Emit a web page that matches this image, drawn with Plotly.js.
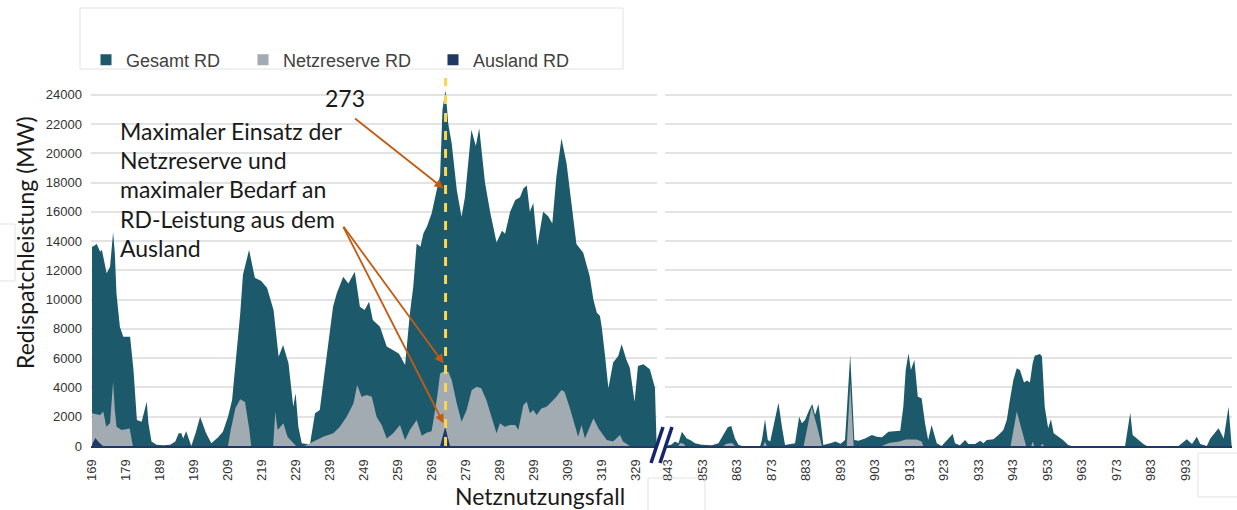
<!DOCTYPE html>
<html>
<head>
<meta charset="utf-8">
<script src="https://cdn.plot.ly/plotly-3.0.1.min.js"></script>
<style>html,body{margin:0;padding:0;background:#fff;}#chart{width:1237px;height:510px;}</style>
</head>
<body>
<div id="chart"></div>
<script>
// ---------- DATA (Netznutzungsfall, MW) ----------
const seriesNames = ["Gesamt RD", "Netzreserve RD", "Ausland RD"];
const leftTicks = [169,179,189,199,209,219,229,239,249,259,269,279,289,299,309,319,329];
const rightTicks = [843,853,863,873,883,893,903,913,923,933,943,953,963,973,983,993];
const yTicks = [0,2000,4000,6000,8000,10000,12000,14000,16000,18000,20000,22000,24000];
const markedCase = 273;

const gesamtLeft = [[169,13600],[170.4,13800],[171.4,13270],[171.9,13400],[173.3,11800],[174.3,12250],[175.2,14600],[175.7,13200],[176.2,10400],[177.2,8150],[178.2,7470],[180.2,7470],[181.2,5200],[182.2,1780],[183.6,1660],[185.1,3030],[185.6,1550],[186.5,300],[188,80],[190,50],[192,80],[193.5,300],[194.5,870],[195.3,870],[195.8,520],[196.7,1000],[198.2,0],[199.5,900],[200.8,2000],[202.5,900],[204.1,180],[206.1,600],[207.5,980],[209,2000],[210.2,3140],[211.2,5420],[212.6,9060],[213.4,11700],[215.2,13400],[216.9,11500],[218.8,11270],[220.5,10800],[222.4,9290],[223.9,6100],[225.2,6900],[226.8,5650],[228.2,2690],[228.9,3600],[229.7,1320],[230.7,180],[233.1,100],[234.6,2230],[236,2460],[237.5,5200],[239.9,9520],[241,10430],[242.9,11570],[244.4,11110],[246.3,11900],[247.8,9520],[249.2,9290],[250.5,9860],[251.6,8600],[253.7,8150],[255.7,6790],[257.5,6560],[259.3,6300],[261.1,5530],[262.5,9060],[263.5,10880],[264.5,13840],[265.6,13620],[266.5,14530],[267.5,14980],[268.9,15890],[270.4,17490],[271.4,18500],[272.1,23000],[273,24300],[273.8,22000],[274.8,20680],[276.3,17490],[277.7,15660],[278.7,17000],[280.6,21600],[281.9,20500],[282.9,21700],[284.6,18000],[286.1,16000],[288,13900],[289.6,14700],[290.5,14500],[292,16000],[293.5,16800],[294.9,17000],[295.9,17600],[296.9,17800],[297.8,16000],[298.8,16600],[300,13700],[301.7,16000],[303.2,15700],[304.4,15200],[305.6,18400],[307.1,21000],[308.6,19300],[310.1,16300],[311.5,13800],[313.5,13200],[315.4,11600],[316.5,10000],[317.5,9100],[318.4,8900],[318.9,8200],[319.9,6200],[320.9,3940],[322.3,5700],[323.8,6150],[324.8,6950],[326.2,5900],[327.2,5350],[328.6,3030],[329.6,5460],[331.2,5580],[333.1,5240],[334.6,3980],[335.1,0]];

const netzLeft = [[169,2230],[171.4,2120],[172.3,2350],[173.2,1320],[174.3,1550],[174.8,3000],[175.2,4400],[175.7,2500],[176.2,1320],[177.7,1090],[180.1,1200],[181,0],[209,0],[209.8,1100],[211.2,2600],[212.6,3200],[214,3000],[215.3,1100],[215.8,0],[222.3,0],[222.9,2350],[223.6,1090],[224.5,1300],[225.3,1550],[226.5,640],[228.2,150],[229,0],[231.5,0],[234.1,300],[237,640],[240,870],[241.9,1320],[243.9,2000],[245.9,2900],[247,4170],[248.3,3370],[249.8,3480],[251.3,3370],[252.7,2000],[254.2,1430],[255.7,520],[257.6,870],[259.6,1430],[261.1,410],[262.5,1090],[264.5,1780],[266,700],[267.4,900],[268.9,1000],[270.4,3140],[271.4,4960],[272.3,5080],[273.8,5080],[274.8,4510],[276.3,2900],[277.7,1660],[279.2,2460],[280.7,3830],[282.2,4050],[283.5,3940],[285,3140],[286.6,2000],[288,870],[289,1550],[290.4,1320],[292,1430],[293.5,1430],[294.4,1090],[295.9,2800],[296.9,3030],[297.8,2230],[298.8,2460],[299.8,2120],[301.2,2570],[302.7,2690],[304.2,3030],[305.6,3370],[307.1,3830],[308,3710],[309.6,2570],[311.1,1320],[312,640],[313,1430],[314,520],[316.5,1890],[318,1200],[320.4,410],[322.3,300],[324.3,750],[325.2,300],[327.2,0],[335.1,0]];

const auslandLeft = [[169,100],[170,550],[171,250],[172.2,0],[271.4,0],[272.9,1320],[274.3,0],[335.1,0]];

const gesamtRight = [[842.2,0],[844,100],[845,300],[846,180],[847,980],[848.4,520],[849.4,410],[850.8,180],[852.8,90],[855.7,50],[857.6,180],[859,750],[860.3,1280],[861.3,1370],[862.4,520],[863.4,90],[864.4,0],[869.7,0],[870.2,410],[871.1,1820],[871.9,410],[872.6,300],[874,1780],[875,2960],[876,1320],[876.9,70],[879.8,180],[881,2000],[881.8,1550],[882.7,1780],[883.9,2460],[884.8,2870],[885.6,2120],[886.6,2870],[887.3,1550],[888,70],[890,180],[891.5,300],[893,150],[894.3,410],[895.3,4290],[895.8,6220],[896.3,3830],[897,410],[898.2,360],[900.1,520],[902.1,750],[903.5,640],[905,590],[906.9,980],[910.3,1050],[911.2,2690],[911.9,5200],[912.7,6340],[913.4,5200],[914.4,5880],[915.4,3370],[916.5,3260],[917.5,1550],[918.4,410],[919.4,1440],[920.9,180],[922.3,0],[923.8,410],[925.5,820],[926.2,180],[927.6,50],[929.1,410],[930.1,140],[932,140],[933.5,360],[934.4,180],[935.4,410],[937.3,460],[938.8,750],[940.2,1090],[941.2,1780],[942.1,3150],[943.1,4510],[944.1,5310],[945,5200],[946.2,4330],[947.1,4470],[947.9,4330],[948.7,5650],[949.3,6160],[950.8,6290],[951.4,6110],[952.2,2690],[953.2,1210],[954,1820],[954.8,870],[956.1,640],[957.5,410],[959,70],[960,0],[975.5,0],[976.2,1090],[977,2280],[977.7,750],[979.4,410],[980.8,140],[981.8,0],[991,0],[993.4,460],[994.9,140],[996.3,640],[997.3,140],[999.2,0],[1000.2,520],[1002.6,1210],[1004.1,520],[1005.5,2690],[1006.4,0]];

const netzRight = [[842.2,0],[846,0],[846.5,200],[847.5,150],[848,0],[859,0],[860,150],[861.5,200],[862.4,0],[870.6,0],[871.1,300],[871.6,0],[882.3,0],[884.6,2690],[886,1500],[887.6,0],[894.8,0],[895.8,4290],[896.8,0],[905,0],[907,200],[910,300],[912,450],[915,450],[916.5,300],[917,0],[942.3,0],[944.1,2350],[946.8,0],[948.3,0],[948.7,300],[949.2,0],[951,0],[951.5,150],[952,0],[1006.4,0]];

const auslandRight = [[842.2,0],[1006.4,0]];

const noteLines = ["Maximaler Einsatz der", "Netzreserve und", "maximaler Bedarf an", "RD-Leistung aus dem", "Ausland"];
const yTitle = "Redispatchleistung (MW)";
const xTitle = "Netznutzungsfall";

// ---------- STYLE ----------
const colors = ["#1c5a6b", "#a2abb2", "#1f3864"];
const W = 1237, H = 510;
const M = {l: 91, r: 5, t: 78, b: 64};
const plotW = W - M.l - M.r, plotH = H - M.t - M.b;
const px = v => (v - M.l) / plotW;      // pixel x -> paper
const py = v => (H - M.b - v) / plotH;  // pixel y -> paper
const noteFont = {family: "Lato, 'Noto Sans', sans-serif", size: 23, color: "#1a1a1a"};
const tickFont = {family: "'Liberation Sans', Arial, sans-serif", size: 13, color: "#333333"};
const legendFont = {family: "'Liberation Sans', Arial, sans-serif", size: 18, color: "#404040"};

function area(pairs, idx, xa) {
  return {
    x: pairs.map(p => p[0]), y: pairs.map(p => p[1]),
    type: "scatter", mode: "lines", fill: "tozeroy",
    line: {width: 0, color: colors[idx], shape: "linear"},
    fillcolor: colors[idx], xaxis: xa, yaxis: "y",
    name: seriesNames[idx], showlegend: false, hoverinfo: "x+y+name"
  };
}
const traces = [
  area(gesamtLeft, 0, "x"), area(netzLeft, 1, "x"), area(auslandLeft, 2, "x"),
  area(gesamtRight, 0, "x2"), area(netzRight, 1, "x2"), area(auslandRight, 2, "x2")
];
const legendIds = ["legend", "legend2", "legend3"];
seriesNames.forEach((n, i) => traces.push({
  x: [null], y: [null], type: "scatter", mode: "markers", name: n,
  marker: {symbol: "square", size: 11, color: colors[i]}, xaxis: "x", yaxis: "y",
  showlegend: true, legend: legendIds[i], hoverinfo: "skip"
}));

const xBase = {
  tickangle: -90, tickfont: tickFont, showgrid: false, zeroline: false,
  showline: true, linecolor: "#1f3864", linewidth: 2, ticks: "",
  tickmode: "array", ticklabelstandoff: 6, fixedrange: true, anchor: "y"
};

const annotations = noteLines.map((t, i) => ({
  text: t, xref: "paper", yref: "paper", x: px(118), y: py(131 + i * 29.2),
  xanchor: "left", yanchor: "middle", showarrow: false, font: noteFont, align: "left"
}));
annotations.push(
  {text: String(markedCase), xref: "paper", yref: "paper", x: px(345), y: py(98), xanchor: "center", yanchor: "middle", showarrow: false, font: noteFont},
  {text: xTitle, xref: "paper", yref: "paper", x: px(540), y: py(496), xanchor: "center", yanchor: "middle", showarrow: false, font: noteFont},
  {text: yTitle, xref: "paper", yref: "paper", x: px(25), y: py(243), xanchor: "center", yanchor: "middle", textangle: -90, showarrow: false, font: noteFont}
);
// arrows (head in data coords, tail as pixel offset)
const arrowStyle = {showarrow: true, arrowhead: 2, arrowsize: 1, arrowwidth: 1.8, arrowcolor: "#c55a11", text: "", xref: "x", yref: "y", axref: "pixel", ayref: "pixel"};
annotations.push(
  Object.assign({}, arrowStyle, {x: 272.4, y: 17600, ax: -90, ay: -71}),
  Object.assign({}, arrowStyle, {x: 272.4, y: 5650, ax: -101, ay: -138}),
  Object.assign({}, arrowStyle, {x: 272.4, y: 1550, ax: -101, ay: -198})
);

const boxLine = {color: "#e2e2e2", width: 1};
const shapes = [
  {type: "line", xref: "x", yref: "paper", x0: markedCase, x1: markedCase, y0: 0, y1: 1, line: {color: "#ffd54f", width: 3, dash: "dash"}, layer: "above"},
  {type: "line", xref: "paper", yref: "paper", x0: px(651), y0: py(463), x1: px(663), y1: py(427), line: {color: "#14256b", width: 3.5}},
  {type: "line", xref: "paper", yref: "paper", x0: px(660), y0: py(463), x1: px(672), y1: py(427), line: {color: "#14256b", width: 3.5}},
  {type: "rect", xref: "paper", yref: "paper", x0: px(80), y0: py(69), x1: px(623), y1: py(8), line: boxLine},
  {type: "rect", xref: "paper", yref: "paper", x0: px(-1), y0: py(281), x1: px(15), y1: py(224), line: boxLine},
  {type: "rect", xref: "paper", yref: "paper", x0: px(648), y0: py(511), x1: px(705), y1: py(478), line: boxLine},
  {type: "rect", xref: "paper", yref: "paper", x0: px(1198), y0: py(497), x1: px(1238), y1: py(453), line: boxLine, fillcolor: "#ffffff"}
];

function legendAt(startPx) {
  return {orientation: "h", x: px(startPx), y: py(60), xanchor: "left", yanchor: "middle",
    font: legendFont, bgcolor: "rgba(0,0,0,0)", borderwidth: 0};
}

const layout = {
  width: W, height: H, margin: M, paper_bgcolor: "#fff", plot_bgcolor: "#fff",
  showlegend: true,
  legend: legendAt(86), legend2: legendAt(243), legend3: legendAt(433),
  xaxis: Object.assign({}, xBase, {domain: [0, px(657)], range: [168.7, 335.2], tickvals: leftTicks}),
  xaxis2: Object.assign({}, xBase, {domain: [px(665), 1], range: [842.1, 1006.5], tickvals: rightTicks}),
  yaxis: {range: [0, plotH * 24000 / 351.3], tickmode: "array", tickvals: yTicks, tickformat: "d", tickfont: tickFont,
    showgrid: true, gridcolor: "#e3e3e3", gridwidth: 2, zeroline: false, showline: false,
    ticks: "", ticklabelstandoff: 8, fixedrange: true},
  annotations: annotations, shapes: shapes
};

Plotly.newPlot("chart", traces, layout, {displayModeBar: false, staticPlot: true});
</script>
</body>
</html>
